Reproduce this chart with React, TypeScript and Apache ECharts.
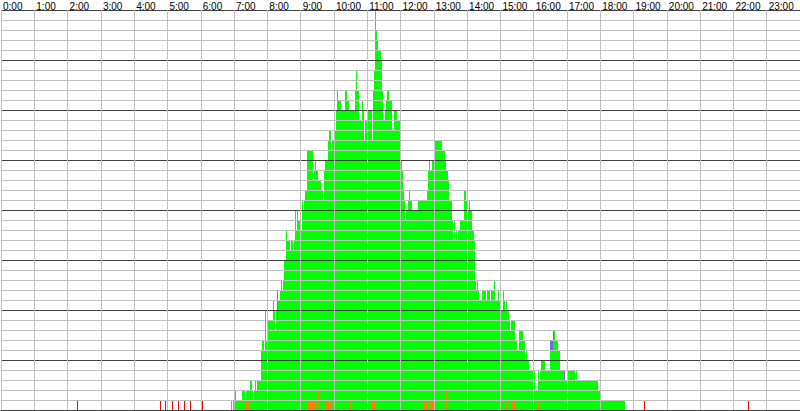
import React, { useEffect, useRef } from 'react';
import * as echarts from 'echarts';

// Tick labels of the time axis (top)
const hourLabels = [
  '0:00', '1:00', '2:00', '3:00', '4:00', '5:00', '6:00', '7:00', '8:00', '9:00', '10:00', '11:00',
  '12:00', '13:00', '14:00', '15:00', '16:00', '17:00', '18:00', '19:00', '20:00', '21:00', '22:00', '23:00',
];

// Green column heights, one value per 2-minute bin (30 bins per hour)
const counts06 = [0,0,0,0,0,0,0,0,0,0,0,0,0,0,0,0,0,0,0,0,0,0,0,0,0,0,0,1,0,1];
const counts07 = [1,2,1,1,1,1,1,2,2,2,1,2,2,2,3,3,2,1,2,3,2,3,3,3,6,7,7,6,10,7];
const counts08 = [9,9,9,9,9,11,10,8,10,12,11,12,13,12,13,15,15,18,17,17,16,17,17,16,17,20,18,20,19,19];
const counts09 = [18,21,20,21,22,22,26,26,26,26,26,23,24,25,24,24,23,23,22,22,21,24,25,25,25,27,28,26,27,27];
const counts10 = [28,28,30,32,31,31,30,30,30,30,32,32,31,31,30,30,30,30,30,32,34,32,32,29,29,31,30,27,29,29];
const counts11 = [27,30,30,30,27,32,34,40,38,37,36,36,35,32,29,29,30,31,32,32,31,31,28,28,30,30,30,29,29,29];
const counts12 = [25,24,22,21,19,20,20,21,22,21,20,20,20,20,20,20,21,21,21,21,21,21,21,21,22,24,25,24,25,25];
const counts13 = [25,27,27,27,27,27,27,26,26,26,25,24,24,23,21,21,19,17,19,17,18,17,18,18,19,19,19,22,22,21];
const counts14 = [20,20,21,20,18,18,17,13,12,13,12,11,11,12,12,12,12,11,12,12,12,11,12,12,13,11,11,11,12,11];
const counts15 = [11,10,12,11,10,11,10,10,9,8,9,9,9,7,7,6,6,8,8,8,7,7,5,6,5,5,4,4,4,5];
const counts16 = [4,2,2,2,4,3,4,5,5,5,4,4,4,4,4,7,7,8,8,7,7,7,6,6,4,4,4,4,3,3];
const counts17 = [3,4,4,4,4,4,4,3,4,3,3,3,3,3,3,3,3,3,3,3,3,3,3,3,3,3,3,3,2,2];
const counts18 = [2,1,1,1,1,1,1,1,1,1,1,1,1,1,1,1,1,1,1,1,1,1,0,0,0,0,0,0,0,0];

// Orange marks (bottom of the columns)
const orangeTimes = [
  '7:22','7:24','7:26','9:12','9:14','9:16','9:20','9:24','9:30','9:32','9:36','9:40','9:46',
  '9:50','9:52','9:54','10:16','10:28','10:30','11:08','11:12','11:14','12:40','12:42','12:46',
  '12:52','12:54','12:56','12:58','13:10','13:20','13:22','13:24','14:40','15:10','15:12',
  '15:20','15:22','15:24','16:08',
];
const orangeCounts = [
  1,1,1,1,1,1,1,1,1,2,1,1,1,
  1,1,1,1,1,1,1,1,1,1,1,1,
  1,1,1,1,1,2,2,1,1,1,1,
  1,1,1,1,
];

// Blue marks (top of some columns)
const blueTimes = ['8:18', '16:30', '16:32', '16:34', '16:54'];
const blueFrom = [9, 6, 6, 7, 3];
const blueTo = [12, 7, 7, 8, 4];

// Red marks
const redTimes = ['2:16', '4:46', '4:56', '5:08', '5:18', '5:30', '5:40', '6:02', '19:18', '22:26'];

const BIN = 2;
const hourly: [number, number[]][] = [
  [6, counts06], [7, counts07], [8, counts08], [9, counts09], [10, counts10], [11, counts11],
  [12, counts12], [13, counts13], [14, counts14], [15, counts15], [16, counts16], [17, counts17],
  [18, counts18],
];

const toMin = (t: string) => {
  const [h, m] = t.split(':').map(Number);
  return h * 60 + m;
};

const greenData: number[][] = [];
hourly.forEach(([h, arr]) => {
  arr.forEach((v, k) => {
    if (v > 0) {
      const s = h * 60 + k * BIN;
      greenData.push([s, s + BIN, 0, v]);
    }
  });
});
const orangeData = orangeTimes.map((t, i) => [toMin(t), toMin(t) + BIN, 0, orangeCounts[i]]);
const blueData = blueTimes.map((t, i) => [toMin(t), toMin(t) + BIN, blueFrom[i], blueTo[i]]);
const redData = redTimes.map((t) => [toMin(t), toMin(t) + BIN, 0, 1]);

const rectItem = (color: string, thin: boolean) => (params: any, api: any) => {
  const s = api.value(0);
  const e = api.value(1);
  const lo = api.value(2);
  const hi = api.value(3);
  const a = api.coord([s, hi]);
  const b = api.coord([e, lo]);
  let x0: number;
  let x1: number;
  if (thin) {
    x0 = Math.floor((a[0] + b[0]) / 2);
    x1 = x0 + 1;
  } else {
    x0 = Math.round(a[0]);
    x1 = Math.max(x0 + 1, Math.round(b[0]));
  }
  return {
    type: 'rect',
    shape: { x: x0, y: a[1], width: x1 - x0, height: b[1] - a[1] },
    style: { fill: color },
  };
};

const customSeries = (name: string, data: number[][], color: string, thin = false) => ({
  type: 'custom',
  name,
  data,
  renderItem: rectItem(color, thin),
  encode: { x: [0, 1], y: [2, 3] },
  z: 2,
  silent: true,
});

export default function App() {
  const ref = useRef<HTMLDivElement>(null);
  useEffect(() => {
    if (!ref.current) return;
    const chart = echarts.init(ref.current, undefined, { renderer: 'svg' });
    chart.setOption({
      animation: false,
      backgroundColor: '#ffffff',
      grid: { left: 0, right: 0, top: 10, bottom: 1, containLabel: false },
      xAxis: {
        type: 'value',
        position: 'top',
        min: 0,
        max: 1440,
        interval: 60,
        z: 10,
        axisLine: { show: true, lineStyle: { color: '#404040', width: 1 } },
        axisTick: { show: false },
        axisLabel: {
          show: true,
          color: '#000000',
          fontSize: 10,
          fontFamily: 'Liberation Sans, Arial, sans-serif',
          align: 'left',
          verticalAlign: 'middle',
          margin: 4,
          padding: [0, 0, 0, 2],
          showMaxLabel: false,
          formatter: (v: number) => hourLabels[Math.round(v / 60)] ?? '',
        },
        splitLine: { show: true, lineStyle: { color: '#c0c0c0', width: 1 } },
      },
      yAxis: {
        type: 'value',
        min: 0,
        max: 40,
        interval: 1,
        z: 10,
        axisLine: { show: false },
        axisTick: { show: false },
        axisLabel: { show: false },
        splitLine: {
          show: true,
          lineStyle: { color: ['#404040', '#c0c0c0', '#c0c0c0', '#c0c0c0', '#c0c0c0'], width: 1 },
        },
      },
      series: [
        customSeries('green', greenData, '#00ff00'),
        customSeries('orange', orangeData, '#ff8000'),
        customSeries('blue', blueData, '#6a6aff'),
        customSeries('red', redData, '#ff0000', true),
      ],
    });
    return () => chart.dispose();
  }, []);
  return (
    <div
      ref={ref}
      style={{ position: 'fixed', left: 0, top: 0, width: 800, height: 411, background: '#fff' }}
    />
  );
}
